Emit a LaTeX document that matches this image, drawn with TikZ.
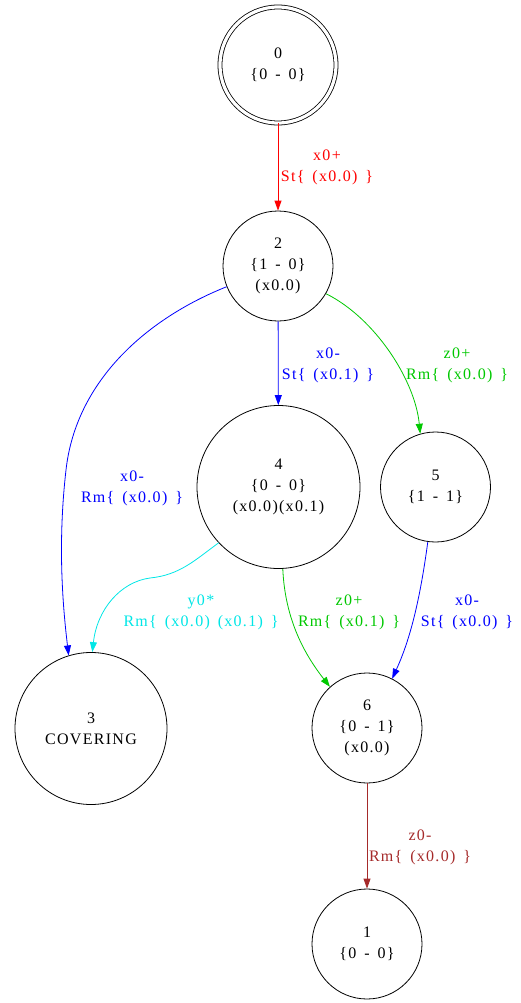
\documentclass[tikz,border=0pt]{standalone}
\usepackage{fontspec}
\setmainfont{Liberation Serif}[LetterSpace=8,WordSpace=1.5]
\usetikzlibrary{arrows.meta}

\definecolor{edgeGreen}{RGB}{0,200,0}
\definecolor{edgeCyan}{RGB}{0,230,230}
\definecolor{edgeBrown}{RGB}{165,42,42}

\begin{document}
\begin{tikzpicture}[x=1pt,y=-1pt,
  state/.style={draw,circle,inner sep=0pt,align=center,line width=0.8pt,
    font=\fontsize{16}{21}\selectfont},
  elabel/.style={align=center,inner sep=0pt,font=\fontsize{16}{21}\selectfont},
  edge/.style={line width=0.8pt,-{Triangle[length=10pt,width=7pt]}},
]
\useasboundingbox (0,0) rectangle (521,1003);

% states
\node[state,minimum size=116pt,double,double distance=3.2pt] (n0) at (278,65) {0\\\{0 - 0\}};
\node[state,minimum size=110pt] (n2) at (278,266) {2\\\{1 - 0\}\\(x0.0)};
\node[state,minimum size=163pt] (n4) at (278.5,487) {4\\\{0 - 0\}\\(x0.0)(x0.1)};
\node[state,minimum size=110pt] (n5) at (435.5,487) {5\\\{1 - 1\}};
\node[state,minimum size=152pt] (n3) at (91,728.5) {3\\COVERING};
\node[state,minimum size=110pt] (n6) at (367,728) {6\\\{0 - 1\}\\(x0.0)};
\node[state,minimum size=110pt] (n1) at (367,944) {1\\\{0 - 0\}};

% transitions
\draw[edge,red] (n0) -- (n2);
\draw[edge,blue] (n2) -- (n4);
\draw[edge,edgeGreen] (n2.-30) .. controls (375,318) and (415,380) .. (n5.106);
\coordinate (b23) at (66,470);
\draw[edge,blue] (n2.202) .. controls (148,318) and (76,380) .. (b23)
  .. controls (58,540) and (62,600) .. (n3.107);
\coordinate (c43) at (150,578);
\draw[edge,edgeCyan] (n4.223) .. controls (195,560) and (180,575) .. (c43)
  .. controls (120,582) and (97,610) .. (n3.89);
\draw[edge,edgeGreen] (n4.-87.5) .. controls (285,620) and (305,655) .. (n6.132);
\draw[edge,blue] (n5.-98) .. controls (420,600) and (410,640) .. (n6.63);
\draw[edge,edgeBrown] (n6) -- (n1);

% transition labels
\node[elabel,red] (l02) at (327,167) {x0+\\St\{ (x0.0) \}};
\node[elabel,blue] (l24) at (328,365) {x0-\\St\{ (x0.1) \}};
\node[elabel,edgeGreen] (l25) at (457,365) {z0+\\Rm\{ (x0.0) \}};
\node[elabel,blue] (l23) at (132,488) {x0-\\Rm\{ (x0.0) \}};
\node[elabel,edgeCyan] (l43) at (201,612) {y0*\\Rm\{ (x0.0) (x0.1) \}};
\node[elabel,edgeGreen] (l46) at (349,612) {z0+\\Rm\{ (x0.1) \}};
\node[elabel,blue] (l56) at (467,612) {x0-\\St\{ (x0.0) \}};
\node[elabel,edgeBrown] (l61) at (420,847) {z0-\\Rm\{ (x0.0) \}};
\end{tikzpicture}
\end{document}
